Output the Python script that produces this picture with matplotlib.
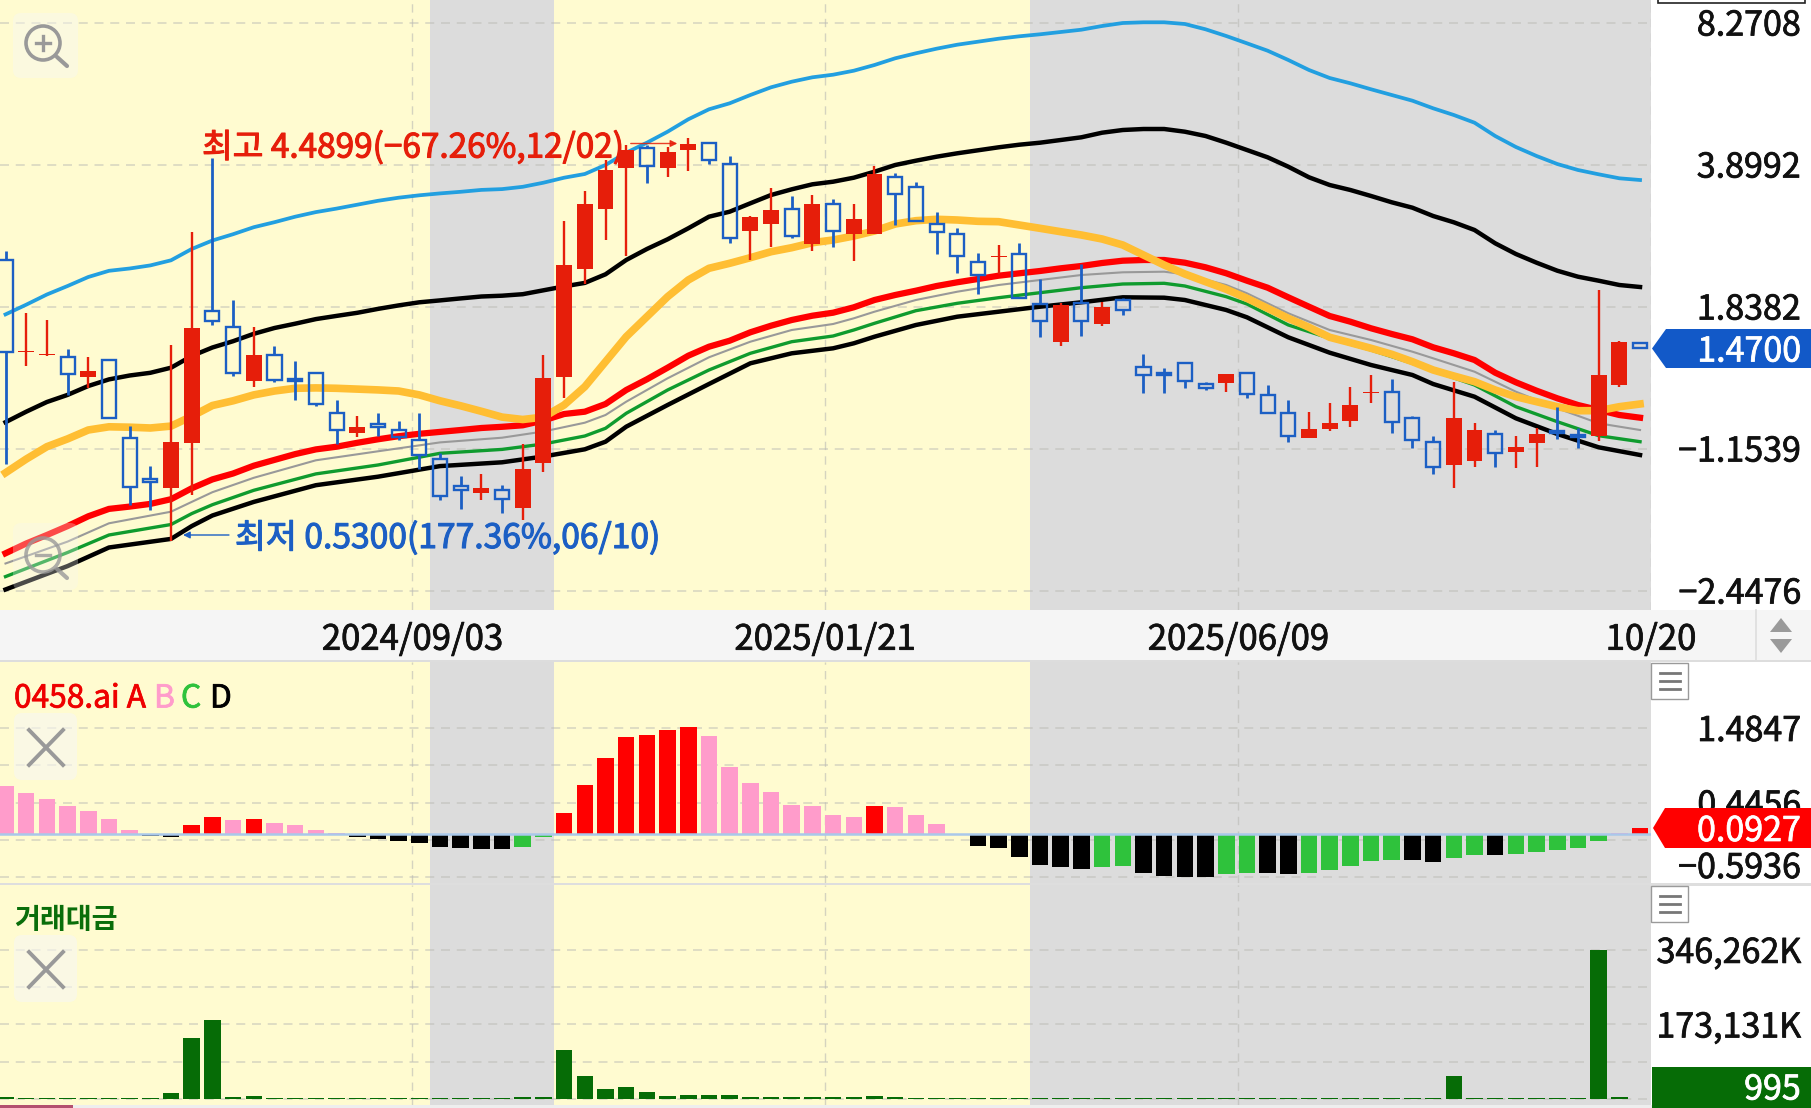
import matplotlib
matplotlib.use("Agg")
import matplotlib.pyplot as plt
import matplotlib.patheffects as pe
from matplotlib.patches import Rectangle, Polygon, FancyBboxPatch, Circle
from matplotlib.transforms import ScaledTranslation

plt.rcParams['font.family'] = ['Noto Sans CJK KR', 'DejaVu Sans']

W, H = 1811, 1108

# ---------------- data ----------------
# Price levels are read on the chart's evenly spaced axis: 142 points per grid step.
price_ticks = [0, 142, 284, 426, 568]
price_labels = ['−2.4476', '−1.1539', '1.8382', '3.8992', '8.2708']
date_ticks = [19.67, 39.61, 59.59, 79.53]
date_labels = ['2024/09/03', '2025/01/21', '2025/06/09', '10/20']
gray_sessions = [(20.52, 26.49), (49.52, 80.0)]

opens = [330.6,238.6,235.6,233.3,213.1,230.2,152.8,111.1,103,147.7,
         279.2,263.7,210,235.6,211.5,217.7,177.3,157.8,166.4,160.5,
         150.8,131.4,105,97.1,101,82.7,127.5,213.8,321.2,381.6,
         422.8,442.8,422.2,440.5,447.8,426.2,359.8,366.8,381.8,346.5,
         386.2,356.5,356.8,413.2,403.8,366.8,356.5,328.5,333.5,336.2,
         286.5,248.8,287.8,266.5,290.5,223.8,217.8,227.8,206.2,207.2,
         217.8,195.2,177.8,152.8,161.5,169.8,197.5,198.2,172.2,148.5,
         125.2,129.8,156.2,138.8,147.2,159.5,155.2,154.5,205.5,247.2]
closes = [238.4,240,237,217,219.7,172.2,103.3,108.8,148.9,262.5,
          269.1,217.7,235.3,210.7,209.6,186.6,160.5,164,164,154,
          135.3,94.4,101,103,91.3,121.6,212.3,325.1,386.2,420.9,
          440.5,424.5,438.8,446.8,430.5,352.8,373.2,380.2,354.8,386.2,
          359.8,371.2,416.8,396.2,369.5,358.5,334.2,315.5,334.2,292.8,
          269.5,285.2,269.8,283.2,280.5,215.5,215.5,209.5,202.8,216.8,
          196.2,177.5,154.5,161.2,167.8,185.2,198.2,168.2,150.5,123.8,
          172.8,160.5,137.2,143.8,156.2,157.2,153.2,215.5,248.2,242.8]
highs = [339.5,277.3,270.3,241.5,233.3,230.2,164.4,124.4,245.4,358.2,
         432.9,290.1,263.7,244.2,229.4,217.7,190.5,174.2,178,169.1,
         178,138,114.6,117,105.7,147,235.3,369.9,399.8,431,
         445.5,445.5,443.8,452.8,447.8,434.5,374.8,402.8,394.5,395.5,
         391.5,386.2,424.5,417.8,408.2,378.2,362.8,337.2,345.2,347.2,
         311.5,287.2,326.8,288.8,292.2,236.5,222.8,228.8,208.2,216.8,
         217.8,205.5,190.5,178.2,187.2,203.8,215.5,211.2,174.5,154.8,
         208.2,167.2,160.5,154.5,162.2,183.2,162.8,300.5,249.5,247.2]
lows = [126.7,224.7,234.5,195.6,202.6,172.2,85.8,80.8,49.6,95.6,
        265.6,214.6,203.4,208.4,190.5,185,147,154,154.7,150.8,
        121.6,90.5,81.6,90.5,77.7,70.3,118.9,192.8,306.5,350.4,
        334.8,407.8,413.8,419.8,426.2,347.2,330.5,343.8,352.8,339.5,
        343.8,329.8,356.8,365.5,369.5,336.8,317.8,296.2,316.5,292.8,
        253.5,244.8,254.8,264.8,275.5,197.2,197.2,202.2,200.5,198.8,
        192.2,177.5,148.8,152.8,159.5,163.8,187.2,157.2,142.2,116.5,
        102.8,123.8,123.8,122.8,123.8,151.5,142.8,149.8,203.8,242.8]

band_blue = [276.1,285.8,296,304.5,313.5,319.7,322,325.1,330.2,341.5,350,356.3,363.3,368.3,373.8,378.4,
             381.9,385.8,389.7,392.8,395.2,397.1,398.7,400.6,401.4,403.7,
             407.8,412.8,416.5,425.5,437.8,447.8,458.8,471.2,481.2,487.2,495.5,503.2,508.8,513.2,
             515.8,519.8,525.5,532.2,537.2,541.8,545.8,548.8,551.8,554.2,556.2,558.5,560.8,
             564.5,567.5,568.2,568.2,566.5,561.2,554.5,547.2,539.8,530.5,520.5,512.5,507.2,501.2,
             495.5,489.8,482.2,475.5,467.8,454.5,443.5,434.5,426.5,420.5,416.2,412.2,410.5]
band_black = [168.3,178.8,188.5,195.6,204.5,211.1,215,217.7,222.8,234.5,243,249.3,256.7,262.5,266.8,
              271.4,274.6,277.7,281.6,285.1,288.2,290.1,292.1,294,294.8,296.3,300.2,304.1,307.6,316.2,
              330.5,341.5,351.2,362.2,
              373.8,378.8,387.2,395.5,401.2,406.2,408.8,412.8,418.8,425.5,429.8,433.8,437.2,440.2,
              443.2,445.8,447.8,450.5,453.2,
              457.8,460.5,461.5,461.5,458.8,454.5,447.8,440.5,433.2,423.8,413.2,405.5,400.5,394.5,
              388.2,382.8,374.5,368.2,360.5,347.2,336.5,327.8,319.8,313.8,309.8,305.5,303.5]
line_red = [37.2,47,55.5,64.4,74.2,81.6,83.9,86.6,91.3,102.2,111.1,117,124.8,130.6,136.4,141.1,143.8,
            147.7,151.2,154.3,156.7,158.6,160.5,162.5,163.7,165.2,
            170,176.5,178.8,186.5,200.5,211.2,222.8,234.8,243.8,249.8,258.2,264.8,270.5,274.8,277.8,
            283.2,290.5,295.5,299.8,304.5,308.2,311.5,314.8,317.2,319.5,322.2,324.5,
            327.5,329.8,330.5,330.5,327.8,323.2,317.2,309.8,302.8,293.2,283.8,274.5,268.8,262.2,
            256.5,251.2,243.2,237.2,230.5,217.8,208.2,199.8,192.2,185.5,180.5,175.5,172.8]
line_orange = [117.7,131.4,143.8,151.6,160.5,163.7,163.3,162.5,164.4,174.2,185,189.7,195.6,199.5,202.2,
               202.6,202.2,201.4,200.6,199.5,195.6,189.7,184.7,179.2,173.4,171,173.4,
               185.5,203.8,228.8,253.8,273.8,293.8,310.5,322.2,327.2,332.8,338.8,342.8,347.8,350.5,
               354.5,359.5,366.5,369.8,371.2,370.5,369.2,368.8,365.5,362.2,358.8,355.5,351.5,
               345.5,335.5,325.5,316.5,308.8,301.2,292.2,282.2,272.2,263.2,253.2,247.8,242.2,236.2,
               228.8,220.5,214.5,208.8,200.5,193.8,188.8,183.8,179.8,179.8,183.8,186.5]

knot_days = [0,3,5,8,9,10,12,15,18,21,24,26,28,29,30,32,34,36,38,40,41,42,44,46,48,50,52,54,56,57,59,
             60,62,64,66,68,69,71,73,75,77,79]
line_gray = [27,48.9,67.2,78.8,88.6,98.3,112.7,130.2,139.2,148.1,152.8,159,167.8,175.5,188.8,212.2,
             233.2,248.8,260.5,266.5,272.2,278.8,290.5,298.8,305.5,310.5,315.5,318.2,318.8,316.2,
             305.5,297.2,277.2,260.5,250.5,238.8,232.2,218.8,198.8,182.2,167.2,160.5]
line_green = [13.9,38,55.5,66,76.9,85.8,100.2,116.6,125.5,137.2,141.1,146.5,154.5,162.2,177.2,200.5,
              220.5,237.2,248.8,254.5,260.5,267.2,279.8,287.2,292.8,297.8,302.8,306.5,307.2,304.5,
              293.8,286.5,265.5,252.2,240.5,227.2,219.8,205.5,183.8,168.8,154.8,148.8]
line_lower = [1,24.4,43,51.6,64.4,75,88.6,105.3,113.8,124.4,128.2,134,141.2,148.8,163.8,185.5,206.5,
              227.2,237.2,242.2,247.2,253.8,265.5,273.8,278.8,283.8,288.2,293.2,292.8,290.5,280.5,
              273.2,253.2,237.8,225.5,215.5,206.5,193.8,172.2,156.5,143.2,135.5]

osc_values = [.674,.577,.498,.400,.330,.209,.056,-.023,-.037,.126,.242,.205,.209,.163,.126,.065,.014,
              -.037,-.065,-.088,-.121,-.177,-.195,-.200,-.205,-.177,-.037,.293,.693,1.065,1.353,1.390,
              1.455,1.493,1.367,.935,.721,.595,.405,.391,.270,.237,.395,.386,
              .265,.140,.009,-.163,-.195,-.316,-.432,-.451,-.488,-.460,-.442,-.535,-.577,-.591,-.591,
              -.553,-.544,-.544,-.558,-.539,-.502,-.442,-.372,-.358,-.358,-.381,-.326,-.293,-.293,
              -.279,-.246,-.214,-.195,-.088,.020,.0927]
osc_states = list("PPPPPPPKKRRPRPPPPKKKKKKKKGGRRRRRRRPPPPPPPPRPPPPKKKKKKGGKKKKGGKKGGGGGKKGGKGGGGGPR")
osc_ticks = [1.4847, 0.96515, 0.4456, -0.0740, -0.5936]
osc_labels = ['1.4847', '', '0.4456', '', '−0.5936']

turnover = [3875,2325,2325,2325,2325,2325,2325,2325,14725,141825,182900,3875,6975,3100,3100,2325,2325,
            2325,2325,2325,2325,2325,2325,2325,3100,3875,3875,113150,53475,22475,27125,15500,6975,8525,
            8525,8525,3875,3875,3875,5425,3875,4650,7750,4650,2325,3100,2325,2325,2325,2325,2325,3100,
            3100,2325,2325,2325,2325,2325,2325,2325,2325,2325,2325,2325,2325,2325,2325,2325,2325,2325,
            54250,2325,2325,2325,2325,2325,2325,346400,4650,995]
turn_ticks = [346262, 259697, 173131, 86566, 0]
turn_labels = ['346,262K', '', '173,131K', '', '']

days = list(range(len(opens)))

# ---------------- styles ----------------
YEL, GRY = '#fffbd0', '#dcdcdc'
RED, BLU = '#e61e0a', '#1c5fc4'
OSC = {'R': '#ff0000', 'P': '#ff9ccb', 'K': '#000000', 'G': '#2fc23c'}
FS = 24.5
PLOT_R = 1651
XLIM = (-0.266, 79.53)
DASH = (0, (6, 4.5))
TEXT_DY = 3.5


def heavy(t, color, w=0.55):
    t.set_path_effects([pe.withStroke(linewidth=w, foreground=color)])
    return t


def nudge(t, px):
    t.set_transform(t.get_transform() + ScaledTranslation(0, -px / 100, fig.dpi_scale_trans))


def axes_px(x0, y0, x1, y1, **kw):
    return fig.add_axes([x0 / W, 1 - y1 / H, (x1 - x0) / W, (y1 - y0) / H], **kw)


def style_panel(ax, ticks, labels):
    ax.set_facecolor(YEL)
    ax.set_xlim(*XLIM)
    for s in ax.spines.values():
        s.set_visible(False)
    for a, b in gray_sessions:
        ax.axvspan(a, b, color=GRY, lw=0, zorder=0)
    ax.set_xticks(date_ticks[:3])
    ax.xaxis.grid(True, color='#b9b9b4', ls=DASH, lw=1.0, alpha=.6)
    ax.yaxis.grid(True, color='#b9b9b4', ls=DASH, lw=1.08, alpha=.6)
    ax.set_axisbelow(True)
    ax.yaxis.tick_right()
    ax.set_yticks(ticks)
    ax.set_yticklabels(labels, fontsize=FS, ha='right', color='#111111')
    ax.tick_params(axis='y', length=0, pad=(1801 - PLOT_R) * 0.72)
    ax.tick_params(axis='x', length=0, labelbottom=False)
    for t in ax.get_yticklabels():
        t.set_va('center')
        heavy(t, '#111111')
        nudge(t, TEXT_DY)


fig = plt.figure(figsize=(W / 100, H / 100), dpi=100, facecolor='white')

# background layer
bg = axes_px(0, 0, W, H, zorder=-1)
bg.set_xlim(0, W); bg.set_ylim(H, 0); bg.axis('off')
bg.add_patch(Rectangle((0, 610), W, 50, color='#f5f5f5', lw=0))
bg.add_patch(Rectangle((0, 660), W, 2, color='#dddddd', lw=0))
bg.add_patch(Rectangle((0, 883), W, 2.5, color='#dedede', lw=0))
bg.add_patch(Rectangle((0, 1105), W, 3, color='#eeeeee', lw=0))
bg.add_patch(Rectangle((0, 1105), 73, 3, color='#b3506f', lw=0))
bg.plot([1756, 1756], [610, 660], color='#dddddd', lw=1.2)
bg.add_patch(Polygon([(1770, 632), (1792, 632), (1781, 618)], color='#9a9a9a', lw=0))
bg.add_patch(Polygon([(1770, 639), (1792, 639), (1781, 653)], color='#9a9a9a', lw=0))

# ---------------- price panel ----------------
ax = axes_px(0, 0, PLOT_R, 610)
style_panel(ax, price_ticks, price_labels)
ax.set_ylim(-19.5, 590.5)
ax.set_xticks(date_ticks)
ax.set_xticklabels(date_labels, fontsize=25, color='#111111')
ax.tick_params(axis='x', length=0, labelbottom=True, pad=(26.7 + TEXT_DY) * 0.72)
for t in ax.get_xticklabels():
    t.set_va('center')
    heavy(t, '#111111')

ax.plot(days, band_blue, color='#229fe0', lw=2.7, zorder=2)
ax.plot(days, band_black, color='black', lw=3.2, zorder=2)
ax.plot(days, line_red, color='#ff0000', lw=4.5, zorder=2)
ax.plot(knot_days, line_gray, color='#999999', lw=1.5, zorder=2)
ax.plot(knot_days, line_green, color='#0f9b2e', lw=2.4, zorder=2)
ax.plot(knot_days, line_lower, color='black', lw=3.2, zorder=2)
ax.plot(days, line_orange, color='#ffbe33', lw=5.5, zorder=2.2)

for d, o, c, h, l in zip(days, opens, closes, highs, lows):
    top, bot = max(o, c), min(o, c)
    if c >= o:
        ax.vlines(d, l, h, color=RED, lw=1.7, zorder=3)
        ax.bar(d, max(top - bot, 1.0), bottom=bot, width=0.77, color=RED, lw=0, zorder=3.1)
    else:
        ax.vlines(d, top, h, color=BLU, lw=2.0, zorder=3)
        ax.vlines(d, l, bot, color=BLU, lw=2.0, zorder=3)
        ax.bar(d, top - bot, bottom=bot, width=0.68, facecolor='none', edgecolor=BLU, lw=1.7, zorder=3.1)

hi_txt = ax.text(9.5, 446, '최고 4.4899(−67.26%,12/02)', color=RED, fontsize=24, va='center', ha='left', zorder=5)
heavy(hi_txt, RED, 0.8); nudge(hi_txt, TEXT_DY)
ax.annotate('', xy=(32.47, 447), xytext=(30.22, 447), zorder=5,
            arrowprops=dict(arrowstyle='-|>', color=RED, lw=1, alpha=.85, shrinkA=0, shrinkB=0))
lo_txt = ax.text(11.09, 55.5, '최저 0.5300(177.36%,06/10)', color=BLU, fontsize=24.2, va='center', ha='left', zorder=5)
heavy(lo_txt, BLU, 0.8); nudge(lo_txt, TEXT_DY)
ax.annotate('', xy=(8.58, 55.5), xytext=(10.8, 55.5), zorder=5,
            arrowprops=dict(arrowstyle='-|>', color=BLU, lw=1, shrinkA=0, shrinkB=0))

# ---------------- oscillator panel ----------------
ax2 = axes_px(0, 662, PLOT_R, 883)
style_panel(ax2, osc_ticks, osc_labels)
ax2.set_ylim(-0.677, 2.405)
ax2.bar(days, osc_values, width=0.8, color=[OSC[s] for s in osc_states], lw=0, zorder=2)
ax2.axhline(0, color='#a9c8ea', lw=1.8, zorder=2.5)
# the lowest oscillator label sits above its grid line in the reference
nudge(ax2.get_yticklabels()[-1], -12)

# ---------------- turnover panel ----------------
ax3 = axes_px(0, 885, PLOT_R, 1105)
style_panel(ax3, turn_ticks, turn_labels)
ax3.set_ylim(-13900, 496900)
ax3.bar(days, turnover, width=0.8, color='#066c06', lw=0, zorder=2)

# ---------------- overlay (buttons, badges, legends) ----------------
ov = axes_px(0, 0, W, H, zorder=10)
ov.set_xlim(0, W); ov.set_ylim(H, 0); ov.axis('off'); ov.patch.set_alpha(0)


def icon_box(x0, y0, x1, y1, alpha=.45):
    ov.add_patch(FancyBboxPatch((x0 + 6, y0 + 6), x1 - x0 - 12, y1 - y0 - 12,
                                boxstyle='round,pad=6,rounding_size=8',
                                fc='#f7f7f2', ec='none', alpha=alpha))


def magnifier(cy, plus, alpha=1.0):
    cx = 43
    ov.add_patch(Circle((cx, cy), 17, fc='none', ec='#999999', lw=2.6, alpha=alpha))
    ov.plot([cx + 14, cx + 24], [cy + 14, cy + 23], color='#999999', lw=3, alpha=alpha, solid_capstyle='round')
    ov.plot([cx - 7, cx + 7], [cy, cy], color='#999999', lw=2.4, alpha=alpha)
    if plus:
        ov.plot([cx, cx], [cy - 7, cy + 7], color='#999999', lw=2.4, alpha=alpha)


def x_icon(y0):
    icon_box(14, y0, 77, y0 + 67, alpha=.6)
    ov.plot([29, 63], [y0 + 17, y0 + 52], color='#999999', lw=2.8)
    ov.plot([63, 29], [y0 + 17, y0 + 52], color='#999999', lw=2.8)


def hamburger(y0):
    ov.add_patch(Rectangle((1651, y0), 36.5, 36, fc='white', ec='#9a9a9a', lw=1))
    for dy in (10, 18, 26):
        ov.plot([1659.5, 1679.5], [y0 + dy, y0 + dy], color='#777777', lw=2)


def badge(y0, y1, tip_x, inner_x, color, txt):
    ym = (y0 + y1) / 2
    ov.add_patch(Polygon([(tip_x, ym), (inner_x, y0), (W, y0), (W, y1), (inner_x, y1)], color=color, lw=0))
    heavy(ov.text(1801, ym + TEXT_DY, txt, color='white', fontsize=FS, ha='right', va='center'), 'white')


icon_box(13, 13, 78, 78)
magnifier(43, True)
icon_box(13, 523, 78, 590, alpha=.3)
magnifier(555, False, alpha=.8)
x_icon(713)
x_icon(935)
hamburger(663)
hamburger(886)
ov.add_patch(Rectangle((1658, -6), 147, 9, fc='white', ec='#222222', lw=1.2))
badge(329, 368, 1652, 1666, '#1259c8', '1.4700')
badge(808, 848, 1653, 1665, '#ff0000', '0.0927')
ov.add_patch(Rectangle((1652, 1067), W - 1652, 41, color='#066c06', lw=0))
heavy(ov.text(1801, 1090, '995', color='white', fontsize=FS, ha='right', va='center'), 'white')

LEG = 22.8
LEG_Y = 698.5
heavy(ov.text(14, LEG_Y, '0458.ai A', color='#ee0000', fontsize=LEG, va='center'), '#ee0000')
heavy(ov.text(154, LEG_Y, 'B', color='#ff9ccb', fontsize=LEG, va='center'), '#ff9ccb')
heavy(ov.text(181, LEG_Y, 'C', color='#2fc23c', fontsize=LEG, va='center'), '#2fc23c')
heavy(ov.text(210, LEG_Y, 'D', color='black', fontsize=LEG, va='center'), 'black')
ov.text(14, 920, '거래대금', color='#0a6e0a', fontsize=20.3, va='center', fontweight='bold')

fig.savefig('out.png', dpi=100)
